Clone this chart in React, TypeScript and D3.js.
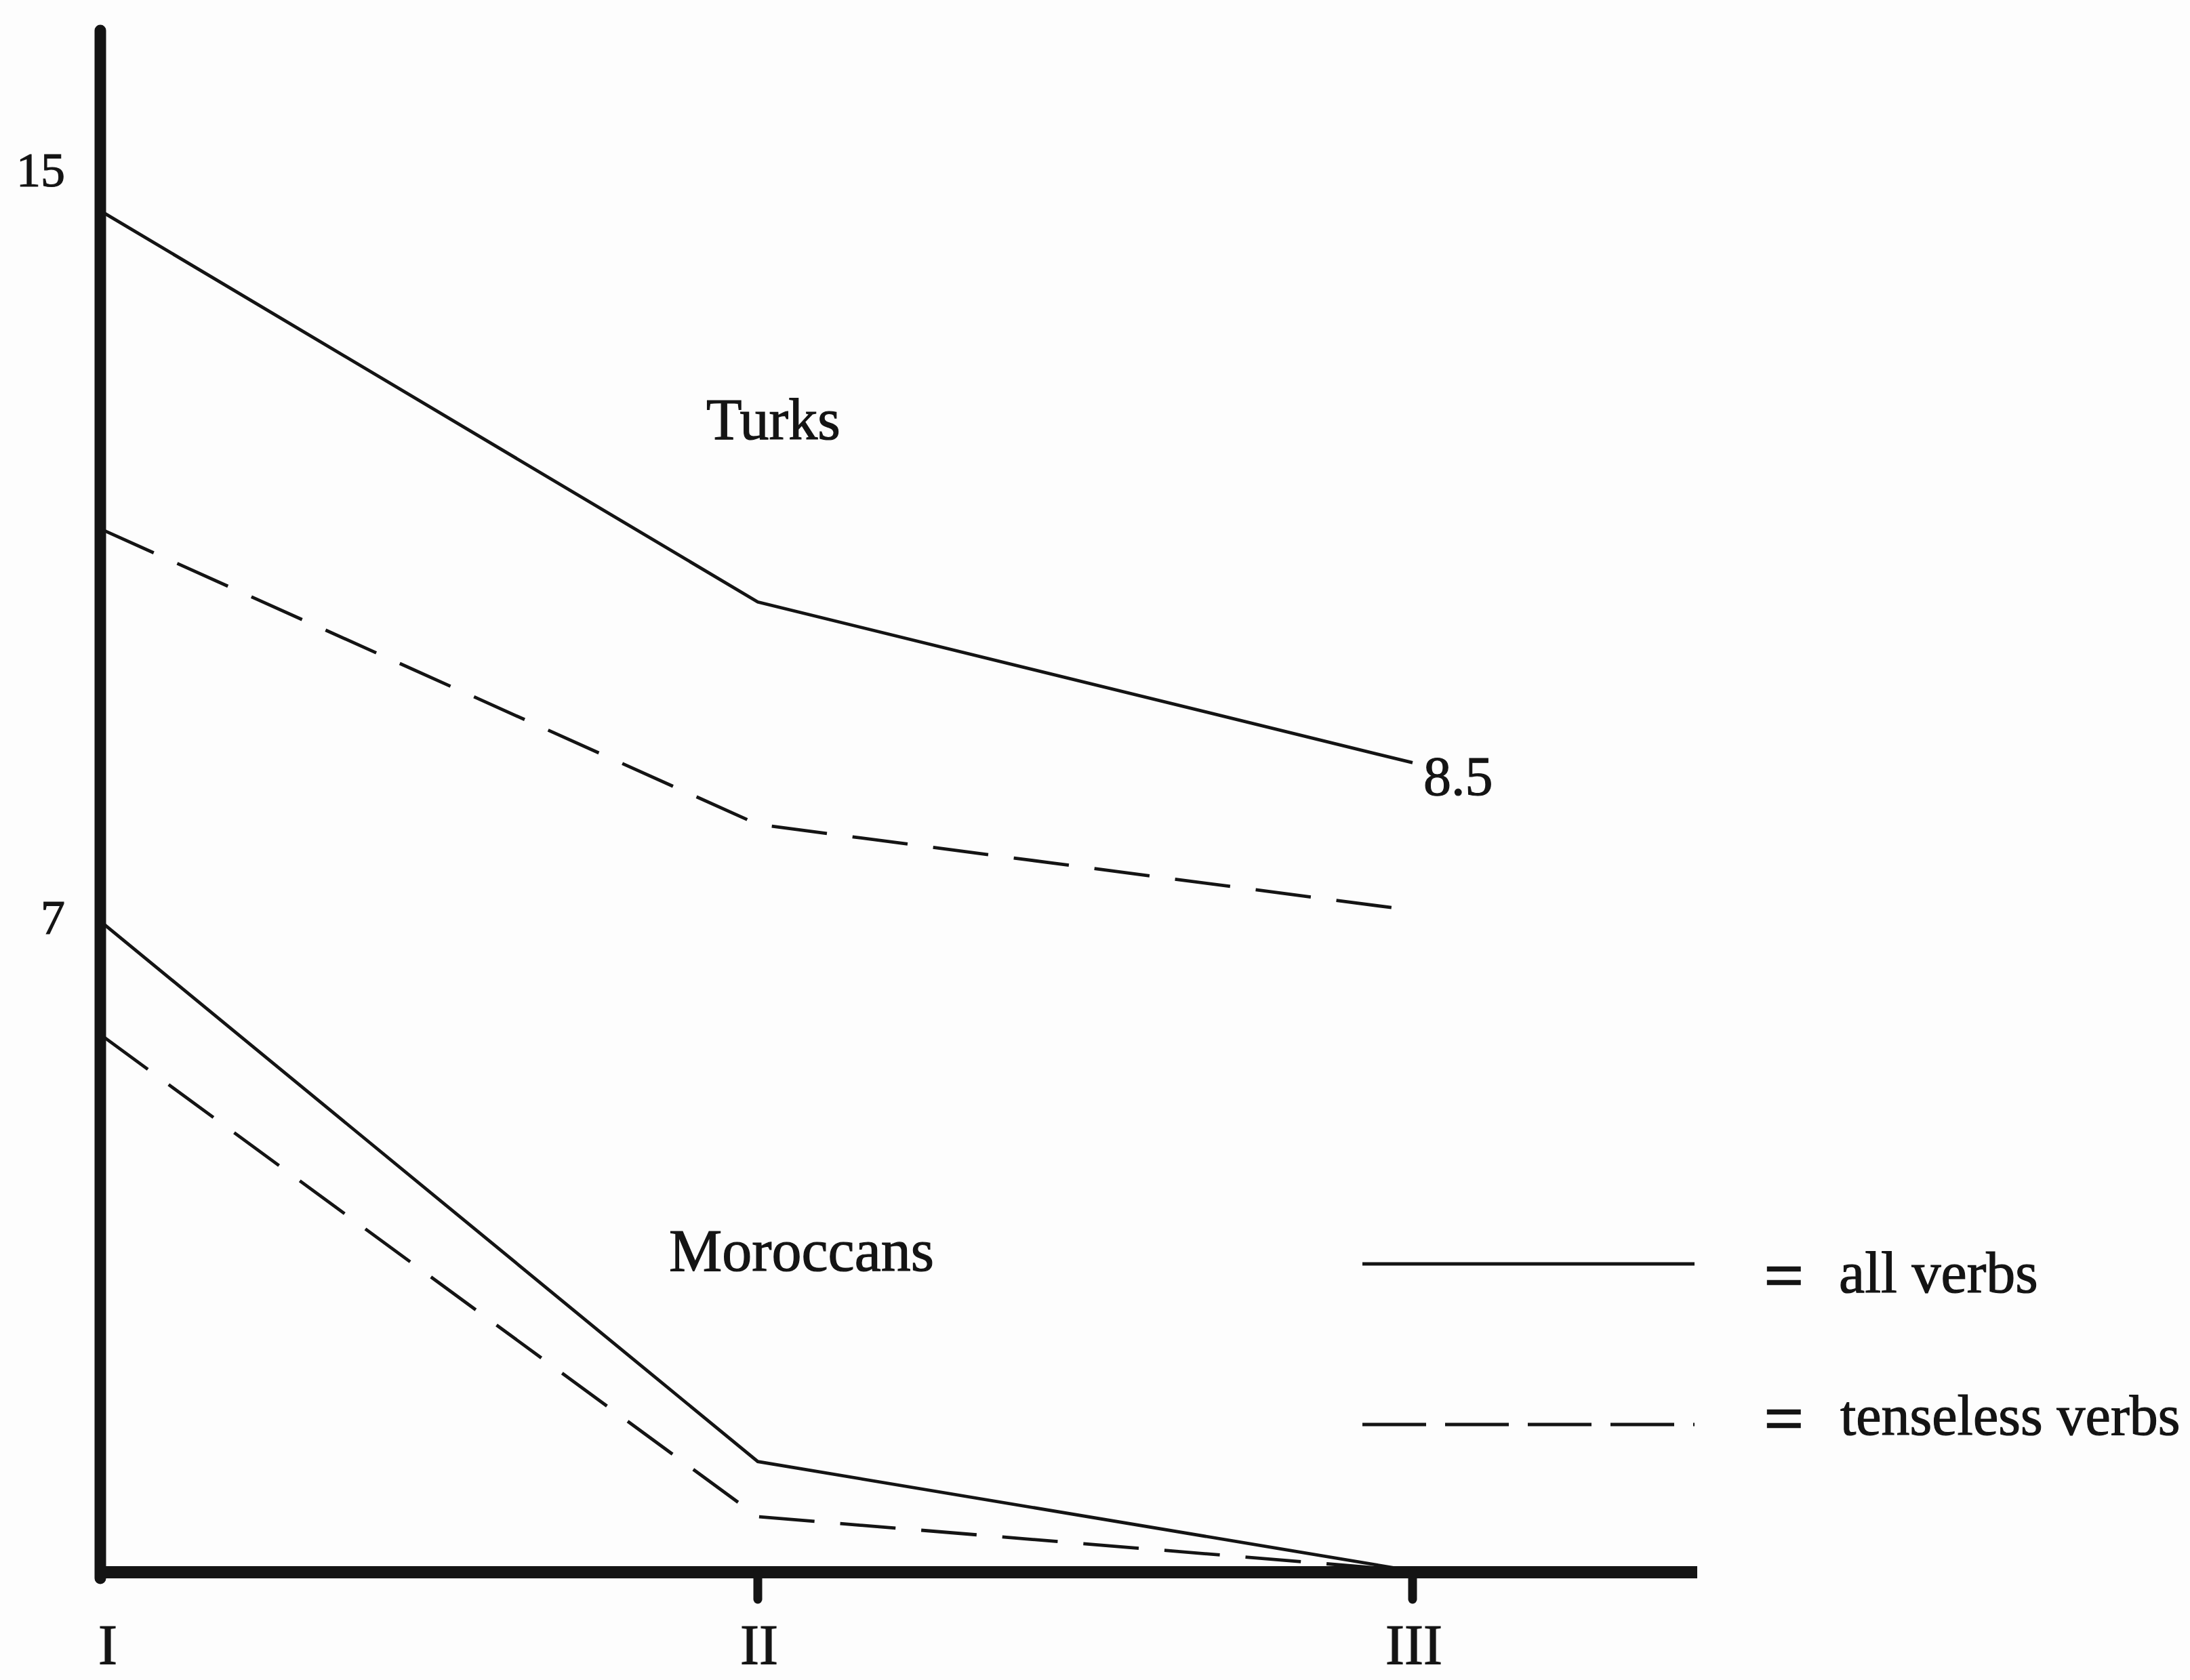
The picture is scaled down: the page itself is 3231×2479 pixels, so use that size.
import React from "react";
import * as d3 from "d3";

// ---- data ----
const categories = ["I", "II", "III"];
const turksAll = [14.54, 10.37, 8.65];
const turksTenseless = [11.14, 7.99, 7.07];
const moroccansAll = [6.93, 1.17, 0];
const moroccansTenseless = [5.72, 0.58, 0];
const yTickValues = [7, 15];
const xTickMarks = ["II", "III"];
const endValueLabel = "8.5";
const groupLabels = ["Turks", "Moroccans"];
const legendLabels = ["all verbs", "tenseless verbs"];

const W = 3231;
const H = 2479;
const INK = "#141414";
const FONT = "'Liberation Serif', 'Times New Roman', serif";

export default function App() {
  const x = d3.scalePoint<string>().domain(categories).range([152, 2084]);
  const y = d3.scaleLinear().domain([0, 15]).range([2318, 250]);

  const line = d3
    .line<number>()
    .x((_, i) => x(categories[i]) as number)
    .y((d) => y(d));

  const series = [
    { values: turksAll, dashed: false },
    { values: turksTenseless, dashed: true },
    { values: moroccansAll, dashed: false },
    { values: moroccansTenseless, dashed: true },
  ];

  const axisX = 148;
  const axisY = 2320;
  const xEnd = 2504;
  const lastCat = categories[categories.length - 1];
  const textProps = { fontFamily: FONT, fill: INK, stroke: INK, strokeWidth: 1.2 };

  return (
    <div style={{ position: "absolute", left: 0, top: 0, margin: 0 }}>
      <svg width={W} height={H} viewBox={`0 0 ${W} ${H}`} style={{ display: "block", background: "#fdfdfd" }}>
        <rect x={0} y={0} width={W} height={H} fill="#fdfdfd" />

        {/* data lines */}
        {series.map((s, i) => (
          <path
            key={i}
            d={line(s.values) || ""}
            fill="none"
            stroke={INK}
            strokeWidth={4.8}
            strokeDasharray={s.dashed ? "82 38" : undefined}
            strokeLinejoin="miter"
          />
        ))}

        {/* axes */}
        <line x1={axisX} y1={45} x2={axisX} y2={axisY + 9} stroke={INK} strokeWidth={17} strokeLinecap="round" />
        <line x1={axisX - 8} y1={axisY} x2={xEnd} y2={axisY} stroke={INK} strokeWidth={18} />
        {xTickMarks.map((c) => (
          <line
            key={c}
            x1={x(c) as number}
            y1={axisY}
            x2={x(c) as number}
            y2={axisY + 40}
            stroke={INK}
            strokeWidth={13}
            strokeLinecap="round"
          />
        ))}

        {/* y tick labels */}
        {yTickValues.map((v) => (
          <text key={v} x={96} y={y(v)} dy="0.35em" textAnchor="end" fontSize={72} {...textProps}>
            {v}
          </text>
        ))}

        {/* x category labels */}
        {categories.map((c, i) => (
          <text
            key={c}
            x={(x(c) as number) + (i === 0 ? 7 : 2)}
            y={2456}
            textAnchor="middle"
            fontSize={84}
            {...textProps}
          >
            {c}
          </text>
        ))}

        {/* end value label */}
        <text x={(x(lastCat) as number) + 16} y={y(turksAll[2]) + 48} fontSize={82} {...textProps}>
          {endValueLabel}
        </text>

        {/* group labels */}
        <text x={1042} y={648} fontSize={86} {...textProps}>
          {groupLabels[0]}
        </text>
        <text x={987} y={1875} fontSize={88} {...textProps}>
          {groupLabels[1]}
        </text>

        {/* legend */}
        <line x1={2010} y1={1865} x2={2500} y2={1865} stroke={INK} strokeWidth={4.8} />
        <text x={2603} y={1916} fontSize={102} {...textProps} strokeWidth={2.5}>=</text>
        <text x={2713} y={1907} fontSize={86} {...textProps}>
          {legendLabels[0]}
        </text>

        <line x1={2010} y1={2102} x2={2500} y2={2102} stroke={INK} strokeWidth={4.8} strokeDasharray="94 28" />
        <text x={2603} y={2127} fontSize={102} {...textProps} strokeWidth={2.5}>=</text>
        <text x={2715} y={2117} fontSize={84} {...textProps}>
          {legendLabels[1]}
        </text>
      </svg>
    </div>
  );
}
